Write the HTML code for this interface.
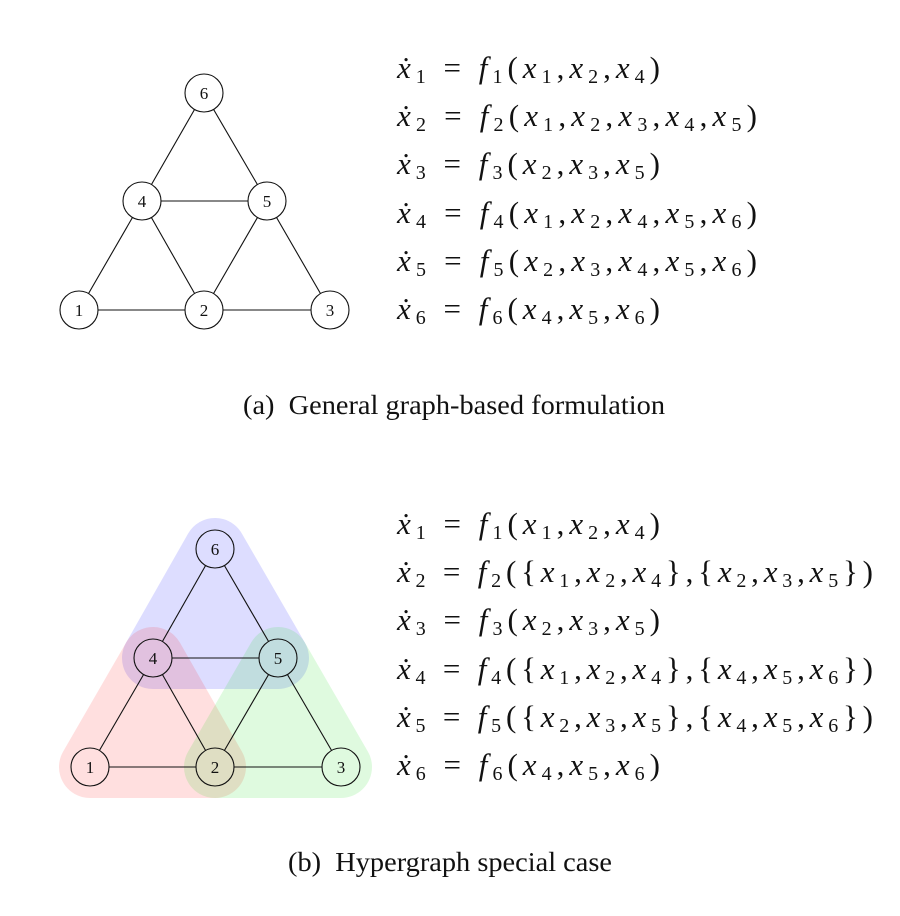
<!DOCTYPE html>
<html><head><meta charset="utf-8"><style>
html,body{margin:0;padding:0;background:#fff;}
svg{display:block;}
text{font-family:"Liberation Serif",serif;fill:#111;}
.e{font-size:31px;}
.i{font-style:italic;}
.s{font-size:20px;}
.n{font-size:17px;}
</style></head><body>
<svg width="900" height="916" viewBox="0 0 900 916">
<!-- top graph -->
<g stroke="#111" stroke-width="1.1" fill="none">
<line x1="204" y1="93" x2="142" y2="201"/><line x1="204" y1="93" x2="267" y2="201"/>
<line x1="142" y1="201" x2="267" y2="201"/><line x1="142" y1="201" x2="79" y2="310"/>
<line x1="142" y1="201" x2="204" y2="310"/><line x1="267" y1="201" x2="204" y2="310"/>
<line x1="267" y1="201" x2="330" y2="310"/><line x1="79" y1="310" x2="330" y2="310"/>
</g>
<g stroke="#111" stroke-width="1.1" fill="#fff">
<circle cx="204" cy="93" r="19"/><circle cx="142" cy="201" r="19"/><circle cx="267" cy="201" r="19"/>
<circle cx="79" cy="310" r="19"/><circle cx="204" cy="310" r="19"/><circle cx="330" cy="310" r="19"/>
</g>
<g text-anchor="middle">
<text class="n" x="204" y="99">6</text><text class="n" x="142" y="207">4</text><text class="n" x="267" y="207">5</text>
<text class="n" x="79" y="316">1</text><text class="n" x="204" y="316">2</text><text class="n" x="330" y="316">3</text>
</g>

<!-- bottom hulls -->
<g opacity="0.13" stroke-linejoin="round" stroke-width="62">
<polygon points="215,549 153,658 278,658" fill="#00f" stroke="#00f"/>
</g>
<g opacity="0.12" stroke-linejoin="round" stroke-width="62">
<polygon points="153,658 90,767 215,767" fill="#f00" stroke="#f00"/>
</g>
<g opacity="0.12" stroke-linejoin="round" stroke-width="62">
<polygon points="278,658 215,767 341,767" fill="#0d0" stroke="#0d0"/>
</g>
<g stroke="#111" stroke-width="1.1" fill="none">
<line x1="205.6" y1="565.5" x2="162.4" y2="641.5"/><line x1="224.4" y1="565.5" x2="268.6" y2="641.5"/>
<line x1="172" y1="658" x2="259" y2="658"/><line x1="143.6" y1="674.5" x2="99.4" y2="750.5"/>
<line x1="162.4" y1="674.5" x2="205.6" y2="750.5"/><line x1="268.6" y1="674.5" x2="224.4" y2="750.5"/>
<line x1="287.4" y1="674.5" x2="331.6" y2="750.5"/><line x1="109" y1="767" x2="196" y2="767"/>
<line x1="234" y1="767" x2="322" y2="767"/>
</g>
<g stroke="#111" stroke-width="1.1" fill="none">
<circle cx="215" cy="549" r="19"/><circle cx="153" cy="658" r="19"/><circle cx="278" cy="658" r="19"/>
<circle cx="90" cy="767" r="19"/><circle cx="215" cy="767" r="19"/><circle cx="341" cy="767" r="19"/>
</g>
<g text-anchor="middle">
<text class="n" x="215" y="555">6</text><text class="n" x="153" y="664">4</text><text class="n" x="278" y="664">5</text>
<text class="n" x="90" y="773">1</text><text class="n" x="215" y="773">2</text><text class="n" x="341" y="773">3</text>
</g>

<!-- top equations -->
<text class="e" x="397" y="78" textLength="263" lengthAdjust="spacing"><tspan class="i">ẋ</tspan><tspan class="s" dy="5">1</tspan><tspan dy="-5"> = </tspan><tspan class="i">f</tspan><tspan class="s" dy="5">1</tspan><tspan dy="-5">(</tspan><tspan class="i">x</tspan><tspan class="s" dy="5">1</tspan><tspan dy="-5">,</tspan><tspan class="i">x</tspan><tspan class="s" dy="5">2</tspan><tspan dy="-5">,</tspan><tspan class="i">x</tspan><tspan class="s" dy="5">4</tspan><tspan dy="-5">)</tspan></text>
<text class="e" x="397" y="126" textLength="360" lengthAdjust="spacing"><tspan class="i">ẋ</tspan><tspan class="s" dy="5">2</tspan><tspan dy="-5"> = </tspan><tspan class="i">f</tspan><tspan class="s" dy="5">2</tspan><tspan dy="-5">(</tspan><tspan class="i">x</tspan><tspan class="s" dy="5">1</tspan><tspan dy="-5">,</tspan><tspan class="i">x</tspan><tspan class="s" dy="5">2</tspan><tspan dy="-5">,</tspan><tspan class="i">x</tspan><tspan class="s" dy="5">3</tspan><tspan dy="-5">,</tspan><tspan class="i">x</tspan><tspan class="s" dy="5">4</tspan><tspan dy="-5">,</tspan><tspan class="i">x</tspan><tspan class="s" dy="5">5</tspan><tspan dy="-5">)</tspan></text>
<text class="e" x="397" y="174" textLength="263" lengthAdjust="spacing"><tspan class="i">ẋ</tspan><tspan class="s" dy="5">3</tspan><tspan dy="-5"> = </tspan><tspan class="i">f</tspan><tspan class="s" dy="5">3</tspan><tspan dy="-5">(</tspan><tspan class="i">x</tspan><tspan class="s" dy="5">2</tspan><tspan dy="-5">,</tspan><tspan class="i">x</tspan><tspan class="s" dy="5">3</tspan><tspan dy="-5">,</tspan><tspan class="i">x</tspan><tspan class="s" dy="5">5</tspan><tspan dy="-5">)</tspan></text>
<text class="e" x="397" y="223" textLength="360" lengthAdjust="spacing"><tspan class="i">ẋ</tspan><tspan class="s" dy="5">4</tspan><tspan dy="-5"> = </tspan><tspan class="i">f</tspan><tspan class="s" dy="5">4</tspan><tspan dy="-5">(</tspan><tspan class="i">x</tspan><tspan class="s" dy="5">1</tspan><tspan dy="-5">,</tspan><tspan class="i">x</tspan><tspan class="s" dy="5">2</tspan><tspan dy="-5">,</tspan><tspan class="i">x</tspan><tspan class="s" dy="5">4</tspan><tspan dy="-5">,</tspan><tspan class="i">x</tspan><tspan class="s" dy="5">5</tspan><tspan dy="-5">,</tspan><tspan class="i">x</tspan><tspan class="s" dy="5">6</tspan><tspan dy="-5">)</tspan></text>
<text class="e" x="397" y="271" textLength="360" lengthAdjust="spacing"><tspan class="i">ẋ</tspan><tspan class="s" dy="5">5</tspan><tspan dy="-5"> = </tspan><tspan class="i">f</tspan><tspan class="s" dy="5">5</tspan><tspan dy="-5">(</tspan><tspan class="i">x</tspan><tspan class="s" dy="5">2</tspan><tspan dy="-5">,</tspan><tspan class="i">x</tspan><tspan class="s" dy="5">3</tspan><tspan dy="-5">,</tspan><tspan class="i">x</tspan><tspan class="s" dy="5">4</tspan><tspan dy="-5">,</tspan><tspan class="i">x</tspan><tspan class="s" dy="5">5</tspan><tspan dy="-5">,</tspan><tspan class="i">x</tspan><tspan class="s" dy="5">6</tspan><tspan dy="-5">)</tspan></text>
<text class="e" x="397" y="319" textLength="263" lengthAdjust="spacing"><tspan class="i">ẋ</tspan><tspan class="s" dy="5">6</tspan><tspan dy="-5"> = </tspan><tspan class="i">f</tspan><tspan class="s" dy="5">6</tspan><tspan dy="-5">(</tspan><tspan class="i">x</tspan><tspan class="s" dy="5">4</tspan><tspan dy="-5">,</tspan><tspan class="i">x</tspan><tspan class="s" dy="5">5</tspan><tspan dy="-5">,</tspan><tspan class="i">x</tspan><tspan class="s" dy="5">6</tspan><tspan dy="-5">)</tspan></text>

<text x="243" y="414" font-size="27" textLength="422" lengthAdjust="spacingAndGlyphs">(a)&#160;&#160;General graph-based formulation</text>

<!-- bottom equations -->
<text class="e" x="397" y="534" textLength="263" lengthAdjust="spacing"><tspan class="i">ẋ</tspan><tspan class="s" dy="5">1</tspan><tspan dy="-5"> = </tspan><tspan class="i">f</tspan><tspan class="s" dy="5">1</tspan><tspan dy="-5">(</tspan><tspan class="i">x</tspan><tspan class="s" dy="5">1</tspan><tspan dy="-5">,</tspan><tspan class="i">x</tspan><tspan class="s" dy="5">2</tspan><tspan dy="-5">,</tspan><tspan class="i">x</tspan><tspan class="s" dy="5">4</tspan><tspan dy="-5">)</tspan></text>
<text class="e" x="397" y="582" textLength="476" lengthAdjust="spacing"><tspan class="i">ẋ</tspan><tspan class="s" dy="5">2</tspan><tspan dy="-5"> = </tspan><tspan class="i">f</tspan><tspan class="s" dy="5">2</tspan><tspan dy="-5">({</tspan><tspan class="i">x</tspan><tspan class="s" dy="5">1</tspan><tspan dy="-5">,</tspan><tspan class="i">x</tspan><tspan class="s" dy="5">2</tspan><tspan dy="-5">,</tspan><tspan class="i">x</tspan><tspan class="s" dy="5">4</tspan><tspan dy="-5">},{</tspan><tspan class="i">x</tspan><tspan class="s" dy="5">2</tspan><tspan dy="-5">,</tspan><tspan class="i">x</tspan><tspan class="s" dy="5">3</tspan><tspan dy="-5">,</tspan><tspan class="i">x</tspan><tspan class="s" dy="5">5</tspan><tspan dy="-5">})</tspan></text>
<text class="e" x="397" y="630" textLength="263" lengthAdjust="spacing"><tspan class="i">ẋ</tspan><tspan class="s" dy="5">3</tspan><tspan dy="-5"> = </tspan><tspan class="i">f</tspan><tspan class="s" dy="5">3</tspan><tspan dy="-5">(</tspan><tspan class="i">x</tspan><tspan class="s" dy="5">2</tspan><tspan dy="-5">,</tspan><tspan class="i">x</tspan><tspan class="s" dy="5">3</tspan><tspan dy="-5">,</tspan><tspan class="i">x</tspan><tspan class="s" dy="5">5</tspan><tspan dy="-5">)</tspan></text>
<text class="e" x="397" y="679" textLength="476" lengthAdjust="spacing"><tspan class="i">ẋ</tspan><tspan class="s" dy="5">4</tspan><tspan dy="-5"> = </tspan><tspan class="i">f</tspan><tspan class="s" dy="5">4</tspan><tspan dy="-5">({</tspan><tspan class="i">x</tspan><tspan class="s" dy="5">1</tspan><tspan dy="-5">,</tspan><tspan class="i">x</tspan><tspan class="s" dy="5">2</tspan><tspan dy="-5">,</tspan><tspan class="i">x</tspan><tspan class="s" dy="5">4</tspan><tspan dy="-5">},{</tspan><tspan class="i">x</tspan><tspan class="s" dy="5">4</tspan><tspan dy="-5">,</tspan><tspan class="i">x</tspan><tspan class="s" dy="5">5</tspan><tspan dy="-5">,</tspan><tspan class="i">x</tspan><tspan class="s" dy="5">6</tspan><tspan dy="-5">})</tspan></text>
<text class="e" x="397" y="727" textLength="476" lengthAdjust="spacing"><tspan class="i">ẋ</tspan><tspan class="s" dy="5">5</tspan><tspan dy="-5"> = </tspan><tspan class="i">f</tspan><tspan class="s" dy="5">5</tspan><tspan dy="-5">({</tspan><tspan class="i">x</tspan><tspan class="s" dy="5">2</tspan><tspan dy="-5">,</tspan><tspan class="i">x</tspan><tspan class="s" dy="5">3</tspan><tspan dy="-5">,</tspan><tspan class="i">x</tspan><tspan class="s" dy="5">5</tspan><tspan dy="-5">},{</tspan><tspan class="i">x</tspan><tspan class="s" dy="5">4</tspan><tspan dy="-5">,</tspan><tspan class="i">x</tspan><tspan class="s" dy="5">5</tspan><tspan dy="-5">,</tspan><tspan class="i">x</tspan><tspan class="s" dy="5">6</tspan><tspan dy="-5">})</tspan></text>
<text class="e" x="397" y="775" textLength="263" lengthAdjust="spacing"><tspan class="i">ẋ</tspan><tspan class="s" dy="5">6</tspan><tspan dy="-5"> = </tspan><tspan class="i">f</tspan><tspan class="s" dy="5">6</tspan><tspan dy="-5">(</tspan><tspan class="i">x</tspan><tspan class="s" dy="5">4</tspan><tspan dy="-5">,</tspan><tspan class="i">x</tspan><tspan class="s" dy="5">5</tspan><tspan dy="-5">,</tspan><tspan class="i">x</tspan><tspan class="s" dy="5">6</tspan><tspan dy="-5">)</tspan></text>

<text x="288" y="871" font-size="27" textLength="324" lengthAdjust="spacingAndGlyphs">(b)&#160;&#160;Hypergraph special case</text>
</svg>
</body></html>
